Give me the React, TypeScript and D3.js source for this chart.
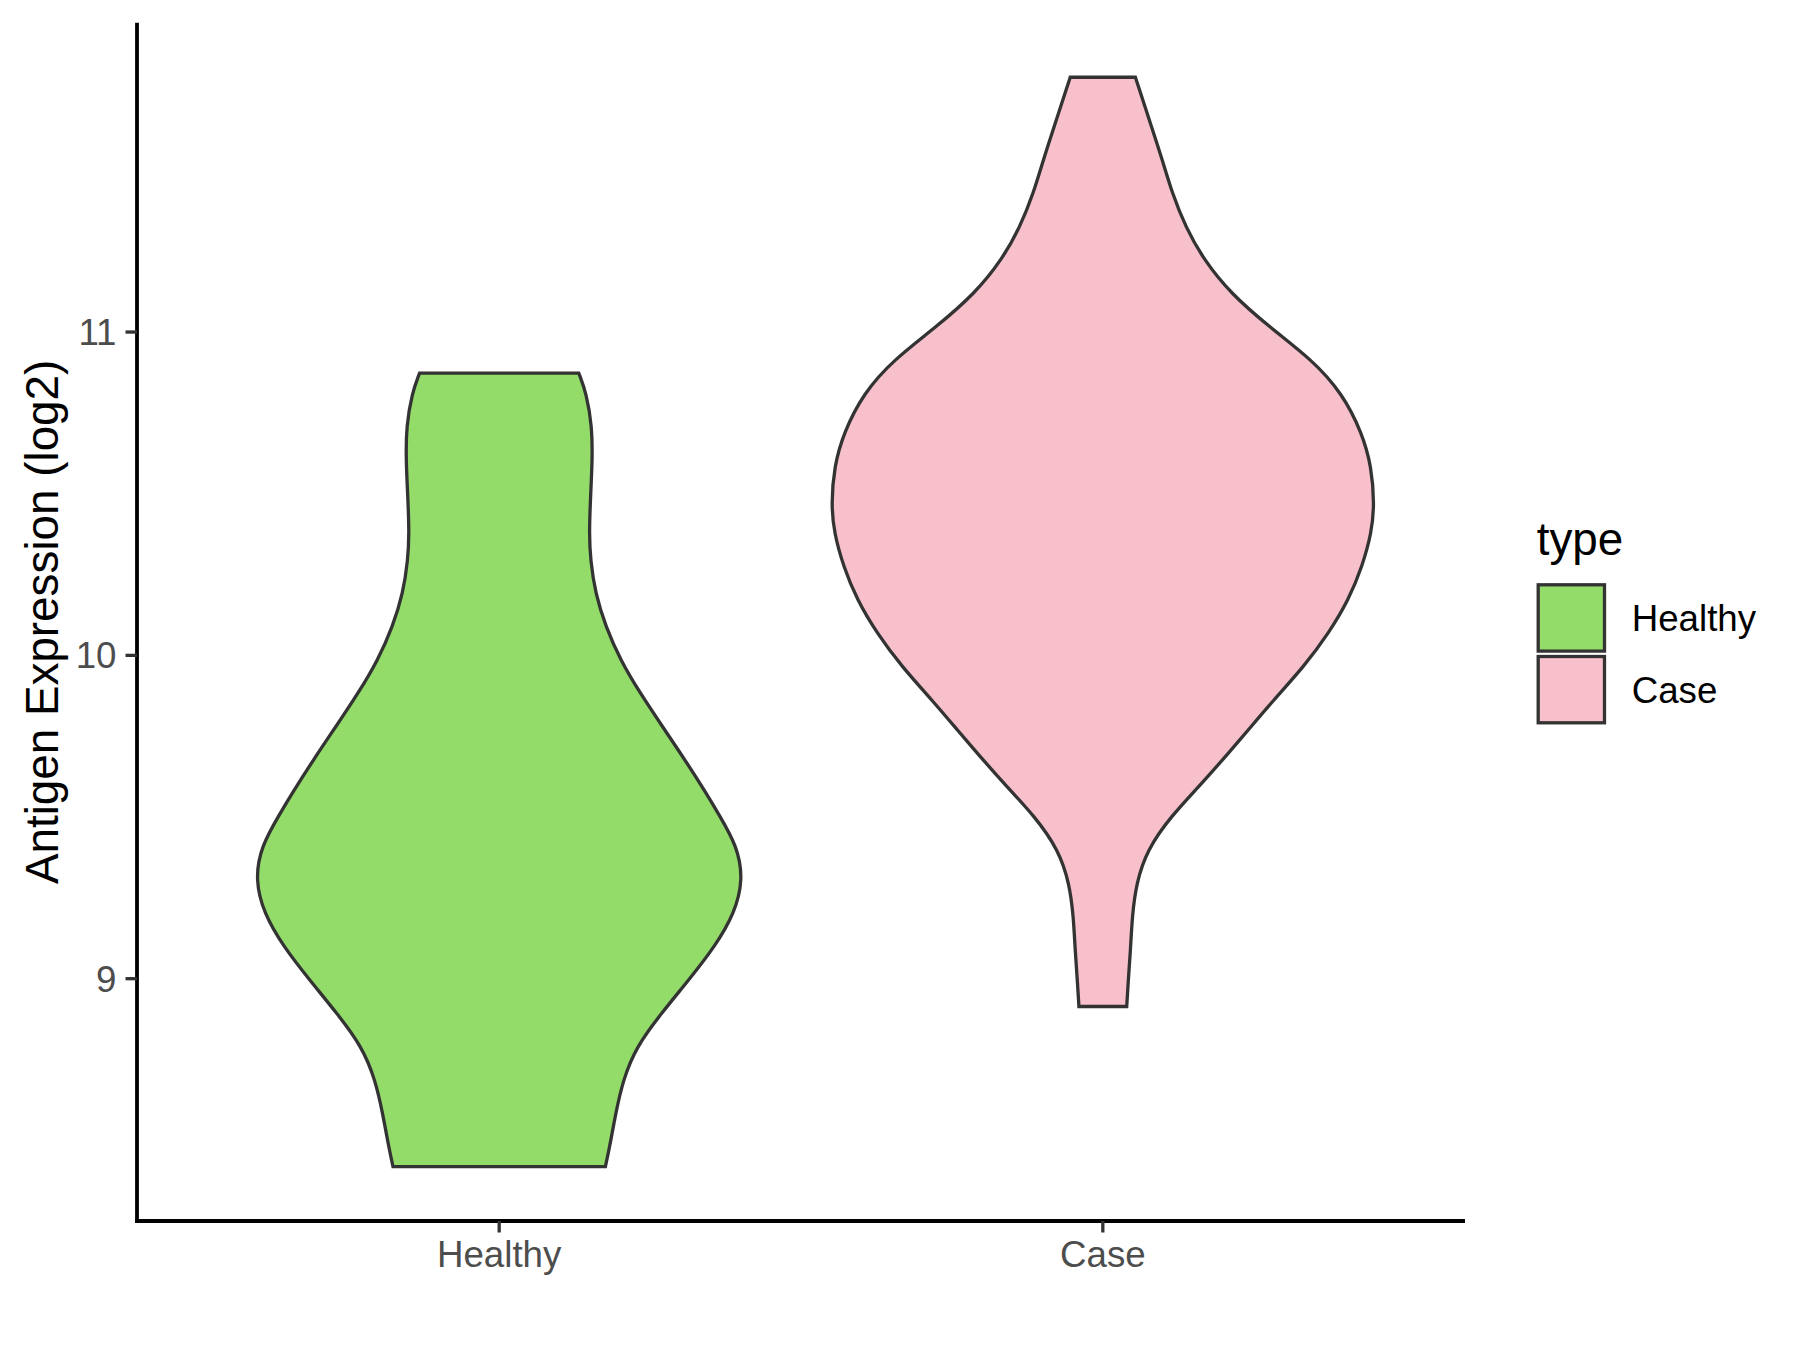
import React from "react";
import * as d3 from "d3";

// ---- Data ----
const categories = ["Healthy", "Case"];
const fillColors = ["#93DC6A", "#F7C0CB"];

// Violin profile: expression value (log2) and relative density width (max = 1)
const healthyValues = [8.419, 8.481, 8.584, 8.687, 8.79, 8.893, 8.996, 9.099, 9.203, 9.306, 9.409, 9.512, 9.574, 9.677, 9.78, 9.883, 9.986, 10.089, 10.192, 10.295, 10.378, 10.502, 10.605, 10.708, 10.811, 10.873];
const healthyWidths = [0.391, 0.407, 0.429, 0.456, 0.505, 0.597, 0.698, 0.794, 0.867, 0.898, 0.877, 0.806, 0.762, 0.684, 0.601, 0.519, 0.446, 0.392, 0.354, 0.336, 0.331, 0.337, 0.343, 0.342, 0.321, 0.293];

const caseValues = [8.914, 8.986, 9.089, 9.192, 9.295, 9.398, 9.501, 9.605, 9.708, 9.759, 9.862, 9.965, 10.069, 10.172, 10.275, 10.378, 10.466, 10.584, 10.687, 10.811, 10.914, 11.017, 11.12, 11.223, 11.326, 11.43, 11.533, 11.636, 11.739, 11.788];
const caseWidths = [0.088, 0.093, 0.102, 0.108, 0.123, 0.163, 0.249, 0.366, 0.473, 0.525, 0.629, 0.74, 0.832, 0.905, 0.955, 0.989, 1.0, 0.989, 0.955, 0.881, 0.771, 0.611, 0.47, 0.372, 0.304, 0.255, 0.219, 0.179, 0.139, 0.12];

const yTicks = [9, 10, 11];
const yTitle = "Antigen Expression (log2)";
const legendTitle = "type";

const series = [
  { name: categories[0], values: healthyValues, widths: healthyWidths, fill: fillColors[0] },
  { name: categories[1], values: caseValues, widths: caseWidths, fill: fillColors[1] },
];

// ---- Layout ----
const W = 1800;
const H = 1350;
const panel = { left: 137, right: 1465, top: 22.8, bottom: 1221 };
const FONT = "'Liberation Sans', Arial, Helvetica, sans-serif";

export default function App() {
  const allVals = [...healthyValues, ...caseValues];
  const vmin = d3.min(allVals) as number;
  const vmax = d3.max(allVals) as number;
  const pad = (vmax - vmin) * 0.05;

  const y = d3.scaleLinear().domain([vmin - pad, vmax + pad]).range([panel.bottom, panel.top]);
  // discrete axis with ggplot's 0.6 expansion
  const xc = d3.scaleLinear().domain([0.4, categories.length + 0.6]).range([panel.left, panel.right]);
  const xPos = (name: string) => xc(categories.indexOf(name) + 1);
  const halfUnit = xc(0.45) - xc(0);

  const lineW = 3.3;
  const axisW = 3.8;
  const tickLen = 11.5;

  return (
    <div style={{ position: "absolute", left: 0, top: 0 }}>
      <svg width={W} height={H} style={{ display: "block", background: "#fff" }} fontFamily={FONT}>
        <rect x={0} y={0} width={W} height={H} fill="#fff" />
        {series.map((s) => {
          const cx = xPos(s.name);
          const pts = s.values.map((v, i) => ({ v, w: s.widths[i] }));
          const area = d3
            .area<{ v: number; w: number }>()
            .y((d) => y(d.v))
            .x0((d) => cx - d.w * halfUnit)
            .x1((d) => cx + d.w * halfUnit)
            .curve(d3.curveBasis);
          return (
            <path
              key={s.name}
              d={area(pts) || ""}
              fill={s.fill}
              stroke="#333333"
              strokeWidth={lineW}
              strokeLinejoin="miter"
            />
          );
        })}

        {/* axes */}
        <line x1={panel.left} x2={panel.left} y1={panel.top} y2={panel.bottom + axisW / 2} stroke="#000" strokeWidth={axisW} />
        <line x1={panel.left - axisW / 2} x2={panel.right} y1={panel.bottom} y2={panel.bottom} stroke="#000" strokeWidth={axisW} />

        {yTicks.map((t) => (
          <g key={t}>
            <line x1={panel.left - tickLen} x2={panel.left} y1={y(t)} y2={y(t)} stroke="#333333" strokeWidth={3.3} />
            <text
              x={panel.left - tickLen - 9}
              y={y(t)}
              dy="0.355em"
              textAnchor="end"
              fontSize={36.7}
              fill="#4D4D4D"
            >
              {t}
            </text>
          </g>
        ))}

        {categories.map((c) => (
          <g key={c}>
            <line x1={xPos(c)} x2={xPos(c)} y1={panel.bottom} y2={panel.bottom + tickLen} stroke="#333333" strokeWidth={3.3} />
            <text x={xPos(c)} y={1267} textAnchor="middle" fontSize={36.7} fill="#4D4D4D">
              {c}
            </text>
          </g>
        ))}

        <text
          transform={`translate(58, ${(panel.top + panel.bottom) / 2}) rotate(-90)`}
          textAnchor="middle"
          fontSize={45.8}
          fill="#000"
        >
          {yTitle}
        </text>

        {/* legend */}
        <text x={1536.7} y={555} fontSize={45.8} fill="#000">
          {legendTitle}
        </text>
        {series.map((s, i) => {
          const top = 584.8 + i * 71.7;
          return (
            <g key={s.name}>
              <rect x={1538.2} y={top} width={66.3} height={66.3} fill={s.fill} stroke="#333333" strokeWidth={3.3} />
              <text x={1631.7} y={top + 33.15} dy="0.355em" fontSize={36.7} fill="#000">
                {s.name}
              </text>
            </g>
          );
        })}
      </svg>
    </div>
  );
}
